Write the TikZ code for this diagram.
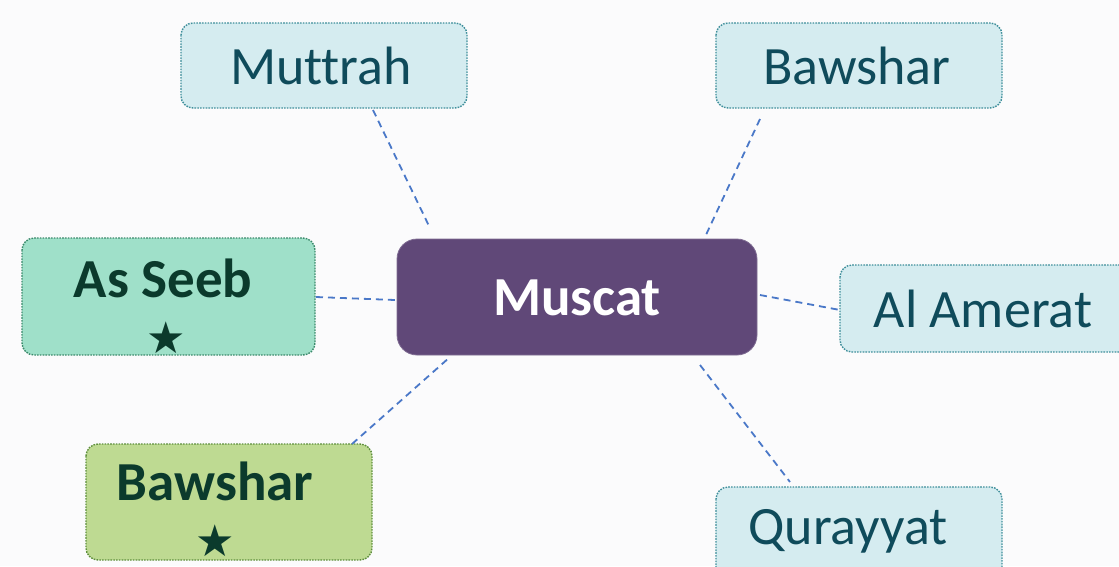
\documentclass[tikz,border=0pt]{standalone}
\usepackage{fontspec}
\setmainfont{Carlito}[Ligatures=NoCommon]
\newfontfamily\symfont{DejaVu Sans}
\usetikzlibrary{calc}
\definecolor{bgc}{HTML}{FBFBFC}
\definecolor{lblue}{HTML}{D5ECF0}
\definecolor{lbord}{HTML}{3F8F9B}
\definecolor{ltext}{HTML}{0F4B5B}
\definecolor{mint}{HTML}{9FE0C9}
\definecolor{mbord}{HTML}{3C8A6C}
\definecolor{lgreen}{HTML}{BEDA92}
\definecolor{gbord}{HTML}{5E8F3C}
\definecolor{dtext}{HTML}{0B3A2C}
\definecolor{purp}{HTML}{604878}
\definecolor{conn}{HTML}{4A78C8}
\tikzset{
  box/.style={rounded corners=12pt, line width=1.4pt, dash pattern=on 1.6pt off 1.2pt, inner sep=0pt},
  bluebox/.style={box, draw=lbord, fill=lblue},
  mintbox/.style={box, draw=mbord, fill=mint},
  greenbox/.style={box, draw=gbord, fill=lgreen},
  centerbox/.style={rounded corners=20pt, fill=purp, draw=purp!80!white, line width=0.8pt},
  txt/.style={font=\fontsize{54}{62}\selectfont, text=ltext, inner sep=0pt},
  btxt/.style={font=\fontsize{55}{62}\selectfont\bfseries, text=dtext, inner sep=0pt},
  startxt/.style={font=\symfont\fontsize{44}{50}\selectfont, text=dtext, inner sep=0pt},
  link/.style={draw=conn, line width=1.8pt, dash pattern=on 7pt off 5pt},
}
\begin{document}
\begin{tikzpicture}[x=1pt,y=-1pt]
\fill[bgc] (0,0) rectangle (1119,566);
\useasboundingbox (0,0) rectangle (1119,566);
\clip (0,0) rectangle (1119,566);
% boxes
\path[bluebox] (181,23) rectangle (467,108);
\coordinate (muttrahB) at (373,110);
\node[txt] (muttrah) at (321,66) {Muttrah};
\path[bluebox] (716,23) rectangle (1002,108);
\coordinate (bawsharTB) at (760,119);
\node[txt] (bawsharT) at (857,66) {Bawshar};
\path[mintbox] (22,238) rectangle (315,355);
\node[btxt] (asseeb) at (163,278) {As Seeb};
\node[startxt] (star1) at (166,338) {★};
\coordinate (asseebR) at (316,297);
\path[centerbox] (397,239) rectangle (757,355);
\node[font=\fontsize{55}{62}\selectfont\bfseries, text=white, inner sep=0pt] (muscat) at (577,298) {Muscat};
\path[bluebox] (840,265) rectangle (1135,352);
\node[txt] (amerat) at (983,309) {Al Amerat};
\coordinate (ameratL) at (840,310);
\path[greenbox] (86,444) rectangle (372,560);
\node[btxt] (bawsharG) at (215,481) {Bawshar};
\node[startxt] (star2) at (215,541) {★};
\coordinate (bawsharGT) at (352,444);
\path[bluebox] (716,487) rectangle (1002,590);
\node[txt] (qurayyat) at (848,531) {Qurayyat};
\coordinate (qurayyatT) at (790,482);
% connector ends at Muscat
\coordinate (mA) at (430,228);
\coordinate (mB) at (705,237);
\coordinate (mC) at (395,300);
\coordinate (mD) at (760,295);
\coordinate (mE) at (450,357);
\coordinate (mF) at (700,365);
\draw[link] (muttrahB) -- (mA);
\draw[link] (bawsharTB) -- (mB);
\draw[link] (asseebR) -- (mC);
\draw[link] (mD) -- (ameratL);
\draw[link] (bawsharGT) -- (mE);
\draw[link] (mF) -- (qurayyatT);
\end{tikzpicture}
\end{document}
